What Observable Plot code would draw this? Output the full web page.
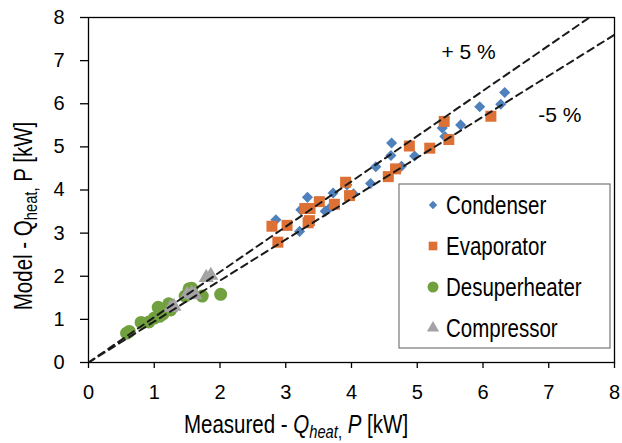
<!DOCTYPE html>
<html>
<head>
<meta charset="utf-8">
<script src="https://cdn.jsdelivr.net/npm/d3@7"></script>
<script src="https://cdn.jsdelivr.net/npm/@observablehq/plot@0.6"></script>
<style>
  html, body { margin: 0; padding: 0; background: #fff; }
  #chart { width: 622px; height: 443px; }
</style>
</head>
<body>
<div id="chart"></div>
<script>
// ---- data ----
const condenser = [
  [2.85, 3.31], [3.21, 3.04], [3.23, 3.54], [3.33, 3.83], [3.60, 3.51],
  [3.68, 3.60], [3.72, 3.93], [3.93, 4.12], [4.03, 3.91], [4.29, 4.15],
  [4.37, 4.54], [4.60, 4.80], [4.61, 5.09], [4.76, 4.55], [4.96, 4.79],
  [5.38, 5.44], [5.42, 5.24], [5.66, 5.51], [5.95, 5.93], [6.27, 5.99],
  [6.33, 6.26]
];
const evaporator = [
  [2.79, 3.16], [2.88, 2.79], [3.02, 3.18], [3.29, 3.57], [3.37, 3.57],
  [3.36, 3.29], [3.34, 3.24], [3.51, 3.73], [3.74, 3.67], [3.91, 4.18],
  [3.97, 3.87], [4.56, 4.31], [4.67, 4.49], [4.88, 5.02], [5.19, 4.97],
  [5.41, 5.59], [5.48, 5.17], [6.12, 5.71]
];
const desuperheater = [
  [0.58, 0.68], [0.62, 0.72], [0.80, 0.93], [0.92, 0.94], [1.00, 1.03],
  [1.08, 1.07], [1.06, 1.28], [1.13, 1.12], [1.22, 1.36], [1.25, 1.22],
  [1.47, 1.54], [1.53, 1.71], [1.57, 1.72], [1.73, 1.54], [2.01, 1.58]
];
const compressor = [
  [1.25, 1.27], [1.30, 1.30], [1.50, 1.58], [1.57, 1.60], [1.62, 1.57],
  [1.79, 1.97], [1.86, 2.02]
];
const seriesNames = ["Condenser", "Evaporator", "Desuperheater", "Compressor"];
const seriesColors = ["#4f81bd", "#dc7035", "#71a03e", "#a3a3a3"];
const seriesSymbols = ["diamond2", "square", "circle", "triangle"];
const axisTicks = [0, 1, 2, 3, 4, 5, 6, 7, 8];
const refX = [0, 8];
const refFactors = [1.05, 0.95];
const refLabels = ["+ 5 %", "-5 %"];
const refLabelPos = [[5.78, 7.2], [7.17, 5.73]];

// ---- build ----
const FONT = "'Liberation Sans', Arial, sans-serif";
const NARROW = 0.82; // emulate Arial Narrow for the hand-placed titles/legend
const toRows = (arr) => arr.map(([x, y]) => ({x, y}));
const allSeries = [condenser, evaporator, desuperheater, compressor].map(toRows);
const refLines = refFactors.map(f => refX.map(x => ({x, y: x * f})));
const labelRows = refLabels.map((t, i) => ({t, x: refLabelPos[i][0], y: refLabelPos[i][1]}));
const radii = [5.0, 6.2, 6.5, 5.6];

const plot = Plot.plot({
  width: 622,
  height: 443,
  marginLeft: 88,
  marginRight: 8,
  marginTop: 17,
  marginBottom: 81,
  style: {fontFamily: FONT, fontSize: "20px", color: "#000", background: "#fff", overflow: "visible"},
  x: {domain: [0, 8], ticks: axisTicks},
  y: {domain: [0, 8], ticks: axisTicks},
  marks: [
    Plot.frame({stroke: "#000", strokeWidth: 1.3}),
    Plot.axisX({ticks: axisTicks, tickSize: 6, tickPadding: 16, label: null, fontSize: 20, strokeWidth: 1.3}),
    Plot.axisY({ticks: axisTicks, tickSize: 8, tickPadding: 16, label: null, fontSize: 20, strokeWidth: 1.3}),
    ...allSeries.map((rows, i) => Plot.dot(rows, {
      x: "x", y: "y", symbol: () => seriesSymbols[i], r: radii[i],
      fill: seriesColors[i], stroke: "none"
    })),
    ...refLines.map(rows => Plot.line(rows, {
      x: "x", y: "y", stroke: "#1a1a1a", strokeWidth: 2, strokeDasharray: "7,5", clip: true
    })),
    Plot.text(labelRows, {x: "x", y: "y", text: "t", fontSize: 21, fill: "#000"})
  ]
});

document.getElementById("chart").appendChild(plot);
const svg = d3.select(plot);

// axis titles with italic / subscript parts
const xt = svg.append("text")
  .attr("transform", `translate(296,433) scale(${NARROW},1)`)
  .attr("text-anchor", "middle")
  .attr("font-family", FONT).attr("font-size", 25).attr("fill", "#000");
xt.append("tspan").text("Measured - ");
xt.append("tspan").attr("font-style", "italic").text("Q");
xt.append("tspan").attr("font-style", "italic").attr("font-size", 18).attr("dy", 5).text("heat");
xt.append("tspan").attr("font-size", 18).text(",");
xt.append("tspan").attr("font-style", "italic").attr("dy", -5).text(" P");
xt.append("tspan").text(" [kW]");

const yt = svg.append("text")
  .attr("transform", `translate(32,216) rotate(-90) scale(${NARROW},1)`)
  .attr("text-anchor", "middle")
  .attr("font-family", FONT).attr("font-size", 25).attr("fill", "#000");
yt.append("tspan").text("Model - Q");
yt.append("tspan").attr("font-size", 18).attr("dy", 5).text("heat,");
yt.append("tspan").attr("dy", -5).text(" P [kW]");

// legend
const lg = svg.append("g");
lg.append("rect").attr("x", 399).attr("y", 184).attr("width", 211).attr("height", 164)
  .attr("fill", "#fff").attr("stroke", "#777").attr("stroke-width", 1.2);
const d3Sym = {diamond2: d3.symbolDiamond2, square: d3.symbolSquare, circle: d3.symbolCircle, triangle: d3.symbolTriangle};
const legendSizes = [45, 75, 95, 65];
seriesNames.forEach((name, i) => {
  const cy = 205 + i * 41;
  lg.append("path")
    .attr("d", d3.symbol(d3Sym[seriesSymbols[i]], legendSizes[i])())
    .attr("transform", `translate(433,${cy})`)
    .attr("fill", seriesColors[i]);
  lg.append("text")
    .attr("transform", `translate(446,${cy}) scale(${NARROW},1)`)
    .attr("dy", "0.36em")
    .attr("text-anchor", "start")
    .attr("font-family", FONT).attr("font-size", 25).attr("fill", "#000").text(name);
});
</script>
</body>
</html>
